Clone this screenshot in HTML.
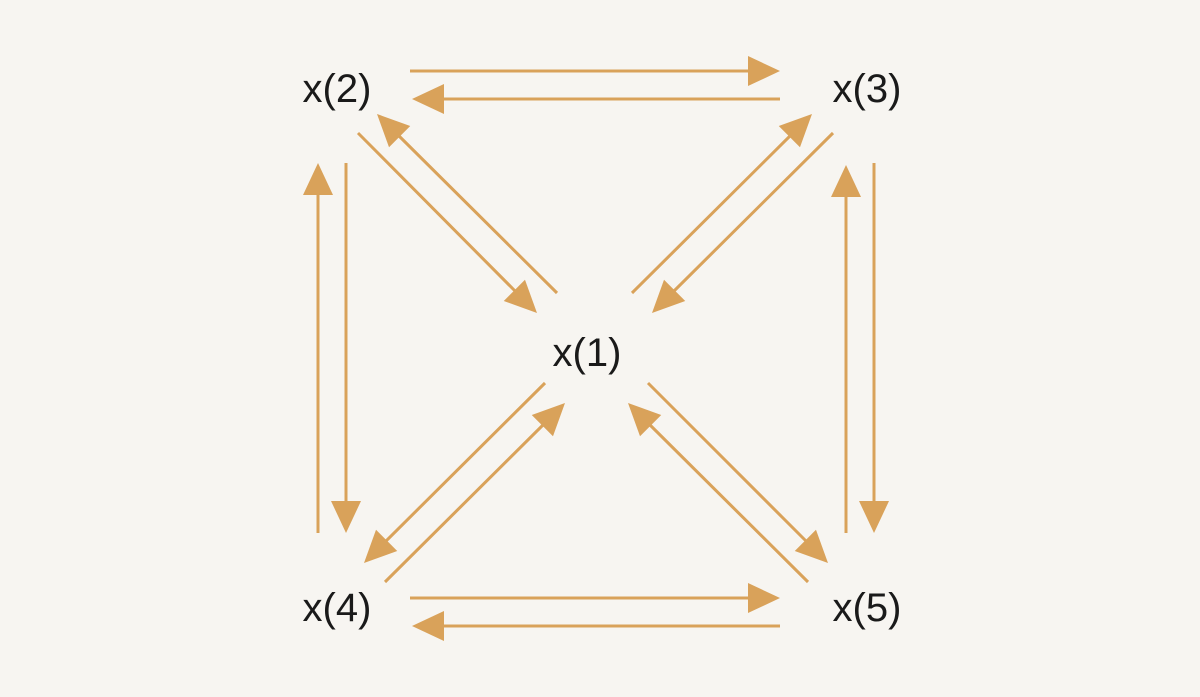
<!DOCTYPE html>
<html><head><style>
html,body{margin:0;padding:0;background:#f7f5f1;}
svg{display:block}
text{font-family:"Liberation Sans",sans-serif;font-size:40px;fill:#1a1a1a;}
</style></head><body>
<svg width="1200" height="697" viewBox="0 0 1200 697">
<g stroke="#d9a25a" stroke-width="3" fill="none">
<line x1="410" y1="71" x2="755" y2="71"/>
<line x1="780" y1="99" x2="437" y2="99"/>
<line x1="318" y1="533" x2="318" y2="188"/>
<line x1="346" y1="163" x2="346" y2="508"/>
<line x1="846" y1="533" x2="846" y2="190"/>
<line x1="874" y1="163" x2="874" y2="508"/>
<line x1="410" y1="598" x2="755" y2="598"/>
<line x1="780" y1="626" x2="437" y2="626"/>
<line x1="358" y1="133" x2="519" y2="295"/>
<line x1="557" y1="293" x2="395" y2="132"/>
<line x1="632" y1="293" x2="794" y2="132"/>
<line x1="833" y1="133" x2="670" y2="295"/>
<line x1="545" y1="383" x2="382" y2="545"/>
<line x1="385" y1="582" x2="547" y2="421"/>
<line x1="808" y1="582" x2="646" y2="421"/>
<line x1="648" y1="383" x2="810" y2="545"/>
</g>
<g fill="#d9a25a">
<polygon points="780,71 748,56 748,86"/>
<polygon points="412,99 444,84 444,114"/>
<polygon points="318,163 303,195 333,195"/>
<polygon points="346,533 331,501 361,501"/>
<polygon points="846,165 831,197 861,197"/>
<polygon points="874,533 859,501 889,501"/>
<polygon points="780,598 748,583 748,613"/>
<polygon points="412,626 444,611 444,641"/>
<g transform="translate(537,313) rotate(45)"><polygon points="0,0 -32,-15 -32,15"/></g>
<g transform="translate(377,114) rotate(225)"><polygon points="0,0 -32,-15 -32,15"/></g>
<g transform="translate(812,114) rotate(-45)"><polygon points="0,0 -32,-15 -32,15"/></g>
<g transform="translate(652,313) rotate(135)"><polygon points="0,0 -32,-15 -32,15"/></g>
<g transform="translate(364,563) rotate(135)"><polygon points="0,0 -32,-15 -32,15"/></g>
<g transform="translate(565,403) rotate(-45)"><polygon points="0,0 -32,-15 -32,15"/></g>
<g transform="translate(628,403) rotate(225)"><polygon points="0,0 -32,-15 -32,15"/></g>
<g transform="translate(828,563) rotate(45)"><polygon points="0,0 -32,-15 -32,15"/></g>
</g>
<text x="337" y="102" text-anchor="middle">x(2)</text>
<text x="867" y="102" text-anchor="middle">x(3)</text>
<text x="587" y="366" text-anchor="middle">x(1)</text>
<text x="337" y="621" text-anchor="middle">x(4)</text>
<text x="867" y="621" text-anchor="middle">x(5)</text>
</svg>
</body></html>
